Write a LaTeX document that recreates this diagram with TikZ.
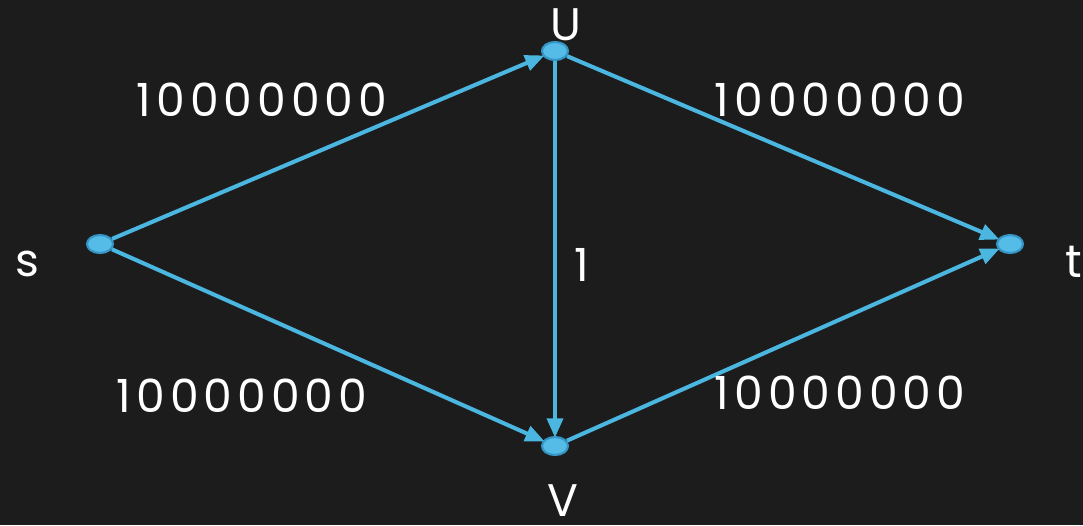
\documentclass[tikz,border=0pt]{standalone}
\usepackage{fontspec}
\setmainfont{Poppins}
\usetikzlibrary{arrows.meta,shapes.geometric}

\definecolor{backdrop}{HTML}{1C1C1C}
\definecolor{edgeblue}{HTML}{4BB6E0}
\definecolor{nodefill}{HTML}{55BCE8}
\definecolor{nodeline}{HTML}{3595C4}
\newfontfamily\netfont[LetterSpace=11]{Poppins}

\begin{document}
\begin{tikzpicture}[x=0.02cm, y=-0.02cm,
    vertex/.style={ellipse, draw=nodeline, fill=nodefill, line width=1.2pt,
                   minimum width=0.52cm, minimum height=0.36cm, inner sep=0pt},
    flow/.style={draw=edgeblue, line width=2.3pt,
                 -{Triangle[length=11pt, width=9pt]}, shorten >=-1pt},
    weight/.style={text=white, inner sep=0pt, font=\netfont\fontsize{26}{30}\selectfont}]
    \fill [backdrop] (0,0) rectangle (1083,525);
    \useasboundingbox (0,0) rectangle (1083,525);

    % vertices
    \node [vertex] (s) at (100,244) {};
    \node [vertex] (u) at (555,51) {};
    \node [vertex] (v) at (555,446) {};
    \node [vertex] (t) at (1010,244) {};

    % edges
    \draw [flow] (s) -- (u);
    \draw [flow] (u) -- (t);
    \draw [flow] (s) -- (v);
    \draw [flow] (v) -- (t);
    \draw [flow] (u) -- (v);

    % vertex names
    \node [weight] (s-name) at (27,264) {s};
    \node [weight] (t-name) at (1074,262) {t};
    \node [weight] (u-name) at (566,25) {U};
    \node [weight] (v-name) at (563,501) {V};

    % capacities
    \node [weight] (su-cap) at (262,100) {10000000};
    \node [weight] (ut-cap) at (840,100) {10000000};
    \node [weight] (sv-cap) at (242,396) {10000000};
    \node [weight] (vt-cap) at (840,393) {10000000};
    \node [weight] (uv-cap) at (582,265) {1};
\end{tikzpicture}
\end{document}
